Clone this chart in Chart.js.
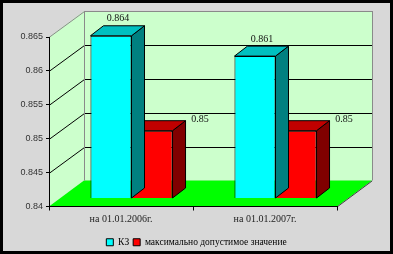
<!DOCTYPE html>
<html>
<head>
<meta charset="utf-8">
<script src="https://cdn.jsdelivr.net/npm/chart.js@4/dist/chart.umd.min.js"></script>
<style>
	html, body { margin: 0; padding: 0; background: #000; }
	canvas { display: block; }
</style>
</head>
<body>
<canvas id="chart" width="393" height="254"></canvas>
<script>
	'use strict';

	// Data
	var categories = ['на 01.01.2006г.', 'на 01.01.2007г.'];
	var seriesNames = ['КЗ', 'максимально допустимое значение'];
	var kzValues = [0.864, 0.861];
	var maxValues = [0.85, 0.85];
	var yMin = 0.84, yMax = 0.865, yStep = 0.005;

	// 3D look (pixels)
	var DEPTH = {x: 35, y: -26},      // full floor depth
		BAR_SHIFT = {x: 10.5, y: -8},  // bars sit a bit behind the front edge
		BAR_DEPTH = {x: 13, y: -10};

	var faces = [
		{front: '#00ffff', side: '#008080', top: '#00c0c0', label: {x: 7, y: -17}},
		{front: '#ff0000', side: '#800000', top: '#c00000', label: {x: 48, y: -11}}
	];

	var serif = '"Liberation Serif", "Times New Roman", serif',
		sans = '"Liberation Sans", Arial, sans-serif';

	function poly(ctx, pts, fill, stroke) {
		ctx.beginPath();
		ctx.moveTo(pts[0][0], pts[0][1]);
		for (var i = 1; i < pts.length; i++) {
			ctx.lineTo(pts[i][0], pts[i][1]);
		}
		ctx.closePath();
		if (fill) { ctx.fillStyle = fill; ctx.fill(); }
		if (stroke) { ctx.strokeStyle = stroke; ctx.lineWidth = 1; ctx.stroke(); }
	}

	function line(ctx, pts, color) {
		ctx.beginPath();
		ctx.moveTo(pts[0][0], pts[0][1]);
		for (var i = 1; i < pts.length; i++) {
			ctx.lineTo(pts[i][0], pts[i][1]);
		}
		ctx.strokeStyle = color;
		ctx.lineWidth = 1;
		ctx.stroke();
	}

	function fmt(v) {
		return String(+(+v).toFixed(3));
	}

	// frame, walls, floor and gridlines go under the axes
	var walls = {
		id: 'walls',
		beforeDraw: function(chart) {
			var ctx = chart.ctx,
				a = chart.chartArea,
				ys = chart.scales.y,
				L = a.left, R = a.right, T = a.top, B = a.bottom,
				dx = DEPTH.x, dy = DEPTH.y;

			ctx.save();
			ctx.fillStyle = '#000';
			ctx.fillRect(0, 0, chart.width, chart.height);
			ctx.fillStyle = '#d8d8d8';
			ctx.fillRect(3, 3, chart.width - 6, chart.height - 6);

			poly(ctx, [[L + dx, T + dy], [R + dx, T + dy], [R + dx, B + dy], [L + dx, B + dy]], '#ccffcc');
			poly(ctx, [[L, T], [L + dx, T + dy], [L + dx, B + dy], [L, B]], '#ccffcc');
			poly(ctx, [[L, B], [R, B], [R + dx, B + dy], [L + dx, B + dy]], '#00ff00');

			ys.ticks.forEach(function(t) {
				if (t.value <= yMin + 1e-9) return;
				var y = Math.round(ys.getPixelForValue(t.value)) + 0.5,
					color = (t.value >= yMax - 1e-9) ? '#8a8a8a' : '#000';
				line(ctx, [[L, y], [L + dx + 0.5, y + dy], [R + dx + 0.5, y + dy]], color);
			});

			line(ctx, [[L + dx + 0.5, T + dy], [L + dx + 0.5, B + dy]], '#8a8a8a');
			line(ctx, [[R + dx + 0.5, T + dy], [R + dx + 0.5, B + dy]], '#8a8a8a');
			line(ctx, [[R, B + 0.5], [R + dx, B + dy + 0.5]], '#404040');
			ctx.restore();
		}
	};

	// shift bars back and add side/top faces
	var bars3d = {
		id: 'bars3d',
		beforeDatasetDraw: function(chart, args) {
			chart.ctx.save();
			chart.ctx.translate(BAR_SHIFT.x, BAR_SHIFT.y);
		},
		afterDatasetDraw: function(chart, args) {
			var ctx = chart.ctx,
				f = faces[args.index],
				bx = BAR_DEPTH.x, by = BAR_DEPTH.y;

			args.meta.data.forEach(function(el) {
				var p = el.getProps(['x', 'y', 'base', 'width'], true),
					l = p.x - p.width / 2,
					r = p.x + p.width / 2;

				poly(ctx, [[r, p.y], [r + bx, p.y + by], [r + bx, p.base + by], [r, p.base]], f.side, '#000');
				poly(ctx, [[l, p.y], [l + bx, p.y + by], [r + bx, p.y + by], [r, p.y]], f.top, '#000');
			});
			ctx.restore();
		},
		afterDatasetsDraw: function(chart) {
			var ctx = chart.ctx;

			ctx.save();
			ctx.font = '10px ' + serif;
			ctx.fillStyle = '#111';
			ctx.textAlign = 'center';
			ctx.textBaseline = 'middle';
			chart.data.datasets.forEach(function(ds, i) {
				var meta = chart.getDatasetMeta(i),
					off = faces[i].label;

				meta.data.forEach(function(el, j) {
					var x = el.x + BAR_SHIFT.x + off.x,
						y = el.y + BAR_SHIFT.y + off.y;
					ctx.fillText(fmt(ds.data[j]), x, y);
				});
			});
			ctx.restore();
		}
	};

	var chart = new Chart(document.getElementById('chart'), {
		type: 'bar',
		data: {
			labels: categories,
			datasets: [
				{
					label: seriesNames[0],
					data: kzValues,
					backgroundColor: faces[0].front,
					borderColor: '#000',
					borderWidth: 1,
					base: yMin,
					clip: false
				},
				{
					label: seriesNames[1],
					data: maxValues,
					backgroundColor: faces[1].front,
					borderColor: '#000',
					borderWidth: 1,
					base: yMin,
					clip: false
				}
			]
		},
		options: {
			responsive: false,
			animation: false,
			events: [],
			categoryPercentage: 0.57,
			barPercentage: 1,
			layout: {
				padding: {left: 0, right: 0, top: 37, bottom: -3}
			},
			scales: {
				x: {
					offset: true,
					grid: {
						offset: true,
						drawOnChartArea: false,
						drawTicks: true,
						tickLength: 4,
						color: '#000'
					},
					border: {color: '#000'},
					ticks: {
						font: {family: serif, size: 10},
						color: '#222',
						padding: 3,
						maxRotation: 0
					},
					afterFit: function(s) { s.height = 27; }
				},
				y: {
					min: yMin,
					max: yMax,
					grid: {
						drawOnChartArea: false,
						tickLength: 3,
						color: '#000'
					},
					border: {color: '#000'},
					ticks: {
						stepSize: yStep,
						font: {family: sans, size: 9},
						color: '#333',
						padding: 3,
						callback: fmt
					},
					afterFit: function(s) { s.width = 49; }
				},
				// empty axis that keeps room for the 3D depth on the right
				yRight: {
					position: 'right',
					grid: {display: false},
					border: {display: false},
					ticks: {display: false},
					afterFit: function(s) { s.width = 56; }
				}
			},
			plugins: {
				legend: {
					position: 'bottom',
					labels: {
						font: {family: serif, size: 9.5},
						color: '#000',
						boxWidth: 7,
						boxHeight: 7,
						padding: 4
					}
				},
				tooltip: {enabled: false}
			}
		},
		plugins: [walls, bars3d]
	});
</script>
</body>
</html>
